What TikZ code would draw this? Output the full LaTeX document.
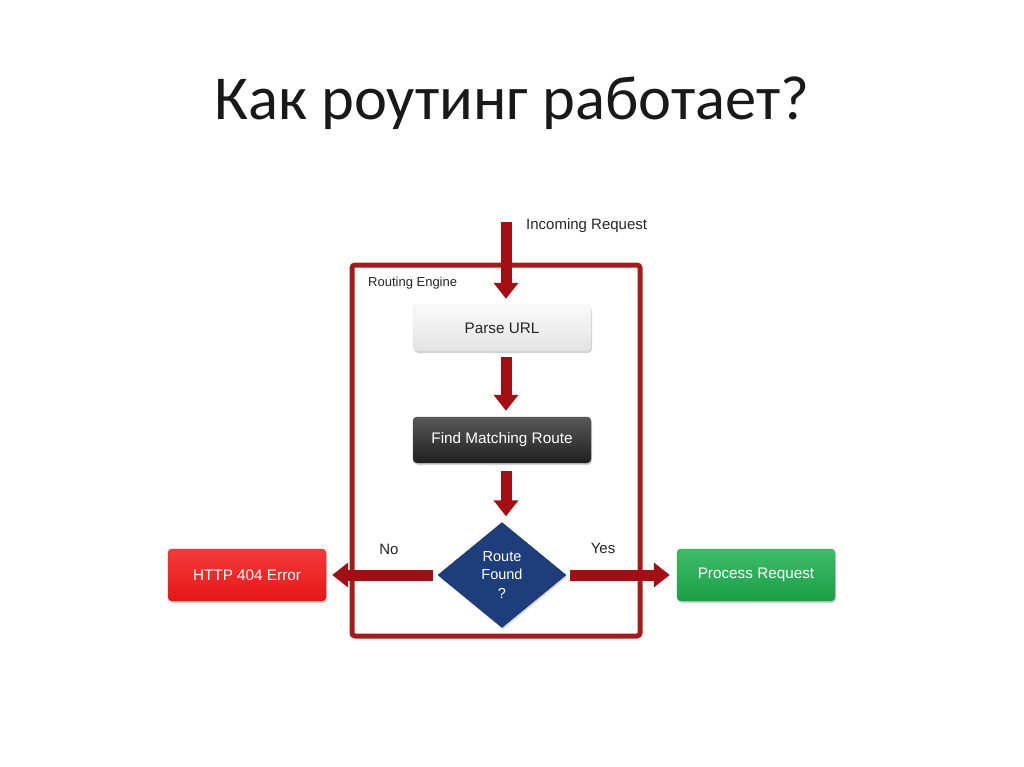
\documentclass[tikz,border=0pt]{standalone}
\usepackage{fontspec}
\setmainfont{Liberation Sans}
\newfontfamily\titlefont{Carlito}
\usetikzlibrary{arrows.meta,shapes.geometric,shadows,calc}
\definecolor{arrowred}{HTML}{A30D14}
\definecolor{framered}{HTML}{A51A1A}
\definecolor{diamondblue}{HTML}{1E3D7B}
\definecolor{okgreen}{HTML}{1DB04E}
\definecolor{errred}{HTML}{F21818}
\tikzset{
  box/.style={rounded corners=4pt, minimum width=178pt, minimum height=46pt, inner sep=0pt, font=\fontsize{15.3}{17}\selectfont, drop shadow={shadow xshift=1pt, shadow yshift=-2pt, opacity=0.35}},
  lightbox/.style={box, top color=white!96!gray, bottom color=white!78!gray, draw=white!75!gray, text=black!85},
  darkbox/.style={box, top color=black!65, bottom color=black!88, draw=black!70, text=white},
  redbox/.style={box, minimum width=158pt, minimum height=52pt, top color=errred!85!white, bottom color=errred!95!black, draw=errred!90!black, text=white},
  greenbox/.style={box, minimum width=158pt, minimum height=52pt, top color=okgreen!85!white, bottom color=okgreen!90!black, draw=okgreen!90!black, text=white},
  decision/.style={diamond, fill=diamondblue, draw=diamondblue!80!black, minimum width=128pt, minimum height=105pt, inner sep=0pt, text=white, align=center, font=\fontsize{14.5}{18.5}\selectfont, drop shadow={shadow xshift=1pt, shadow yshift=-2pt, opacity=0.3}},
  bigarrow/.style={draw=arrowred, line width=11pt, -{Triangle[width=24pt,length=16pt]}},
  lbl/.style={font=\fontsize{15}{17}\selectfont, text=black!85, inner sep=0pt},
  smalllbl/.style={font=\fontsize{13}{15}\selectfont, text=black!85, inner sep=0pt}
}
\begin{document}
\begin{tikzpicture}[x=1pt,y=-1pt]
\useasboundingbox[fill=white] (0,0) rectangle (1024,767);
% title
\node[font=\titlefont\fontsize{62.5}{66}\selectfont, text=black!90, inner sep=0pt] (title) at (512,103) {Как роутинг работает?};
% routing engine frame
\draw[framered, line width=5pt, rounded corners=3pt] (352,265) rectangle (640,636);
\node[smalllbl, anchor=west] (rlabel) at (368,283) {Routing Engine};
% nodes
\node[lightbox] (parse) at (502,328) {Parse URL};
\node[darkbox] (find) at (502,440) {Find Matching Route};
\node[decision] (route) at (502,575) {Route\\Found\\?};
\node[redbox] (err) at (247,575) {HTTP 404 Error};
\node[greenbox] (proc) at (756,575) {Process Request};
% labels
\node[lbl, anchor=west] (inlbl) at (526,226) {Incoming Request};
\node[lbl] (nolbl) at (389,549) {No};
\node[lbl] (yeslbl) at (603,548) {Yes};
% connectors
\coordinate (in) at (506,222);
\draw[bigarrow, shorten >=6pt] (in) -- (in |- parse.north);
\draw[bigarrow, shorten <=6pt, shorten >=6pt] ($(parse.south)+(4,0)$) -- ($(find.north)+(4,0)$);
\draw[bigarrow, shorten <=8pt, shorten >=6pt] ($(find.south)+(4,0)$) -- ($(route.north)+(4,0)$);
\draw[bigarrow, shorten <=5pt, shorten >=6pt] (route.west) -- (err.east);
\draw[bigarrow, shorten <=4pt, shorten >=7pt] (route.east) -- (proc.west);
\end{tikzpicture}
\end{document}
